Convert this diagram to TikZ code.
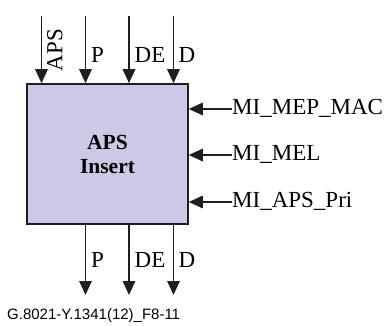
\documentclass[tikz,border=0pt]{standalone}
\usepackage{fontspec}
\setmainfont{Liberation Serif}
\newfontfamily\capfont{Liberation Sans}
\usetikzlibrary{arrows.meta}

\definecolor{apsfill}{RGB}{203,201,230}
\definecolor{apsline}{RGB}{30,30,30}

\tikzset{
    sig/.style={draw=apsline, line width=1.6pt, -{Triangle[length=14pt,width=12.5pt]}},
    lbl/.style={font=\fontsize{23}{25}\selectfont, inner sep=0pt, anchor=base west},
}

\begin{document}
\begin{tikzpicture}[x=1pt, y=-1pt]
    \useasboundingbox (0,0) rectangle (384,325);

    % Block
    \node[draw=apsline, line width=1.6pt, fill=apsfill, minimum width=161pt, minimum height=140pt,
          inner sep=0pt, align=center, font=\bfseries\fontsize{21.5}{24}\selectfont] (aps) at (107.5,154) {APS\\Insert};

    % Inputs (top)
    \coordinate (inAPS) at (41.5,16);
    \coordinate (inP)   at (85.5,16);
    \coordinate (inDE)  at (129,16);
    \coordinate (inD)   at (173.5,16);
    \foreach \c in {inAPS,inP,inDE,inD}
        \draw[sig] (\c) -- (\c |- aps.north);
    \node[font=\fontsize{23}{25}\selectfont, inner sep=0pt, rotate=90, anchor=north] (lAPS) at (47,50) {APS};
    \node[lbl] (lP)  at (91,62) {P};
    \node[lbl] (lDE) at (134.5,62) {DE};
    \node[lbl] (lD)  at (178.5,62) {D};

    % Outputs (bottom)
    \coordinate (outP)  at (85.5,295);
    \coordinate (outDE) at (129,295);
    \coordinate (outD)  at (173.5,295);
    \foreach \c in {outP,outDE,outD}
        \draw[sig] (\c |- aps.south) -- (\c);
    \node[lbl] (oP)  at (91,267) {P};
    \node[lbl] (oDE) at (134.5,267) {DE};
    \node[lbl] (oD)  at (178.5,267) {D};

    % Management inputs (right)
    \coordinate (miMAC) at (232,109);
    \coordinate (miMEL) at (232,155);
    \coordinate (miPri) at (232,202);
    \foreach \c in {miMAC,miMEL,miPri}
        \draw[sig] (\c) -- (\c -| aps.east);
    \node[lbl] (lMAC) at ([yshift=-5.5pt]miMAC) {MI\_MEP\_MAC};
    \node[lbl] (lMEL) at ([yshift=-5.5pt]miMEL) {MI\_MEL};
    \node[lbl] (lPri) at ([yshift=-5.5pt]miPri) {MI\_APS\_Pri};

    % Figure number
    \node[font=\capfont\fontsize{15}{17}\selectfont, inner sep=0pt, anchor=west] (fig) at (7,316) {G.8021-Y.1341(12)\_F8-11};
\end{tikzpicture}
\end{document}
